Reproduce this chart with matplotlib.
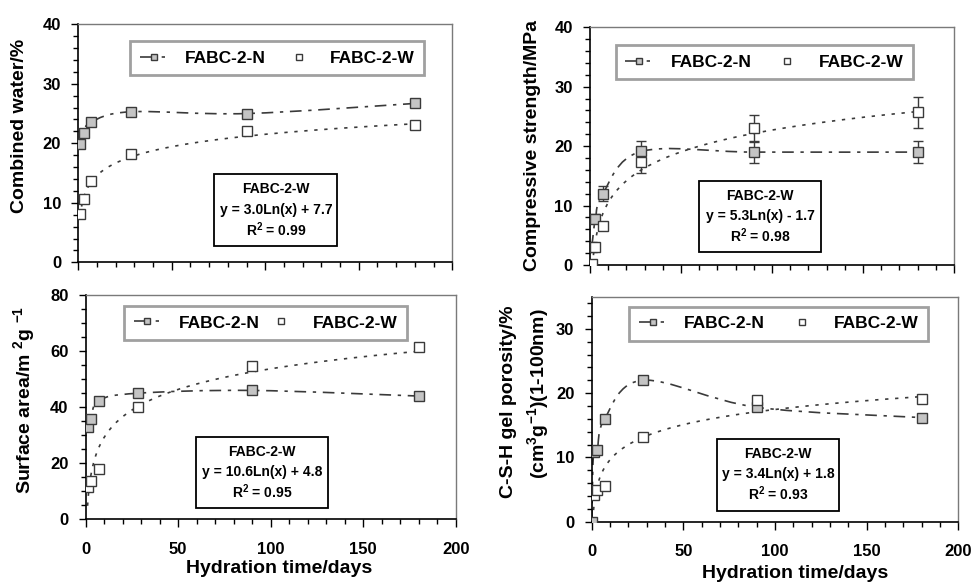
import numpy as np
import matplotlib
matplotlib.use("Agg")
import matplotlib.pyplot as plt
from matplotlib.path import Path
from matplotlib.patches import PathPatch, Rectangle
from matplotlib.lines import Line2D
from matplotlib.ticker import MultipleLocator

plt.rcParams['font.family'] = ['Liberation Sans', 'DejaVu Sans']
plt.rcParams['font.weight'] = 'bold'
plt.rcParams['mathtext.fontset'] = 'custom'
plt.rcParams['mathtext.rm'] = 'Liberation Sans:bold'
plt.rcParams['mathtext.it'] = 'Liberation Sans:bold'
plt.rcParams['mathtext.bf'] = 'Liberation Sans:bold'
plt.rcParams['mathtext.default'] = 'rm'

# ---------------- data ----------------
days = [1, 3, 7, 28, 90, 180]

water_N = [19.8, 21.8, 23.6, 25.3, 25.0, 26.7]
water_W = [8.2, 10.6, 13.7, 18.2, 22.0, 23.0]

strength_N = [3.1, 7.8, 12.0, 19.1, 19.0, 19.0]
strength_N_err = [0.5, 0.8, 1.3, 1.8, 1.9, 1.9]
strength_W = [0.1, 3.1, 6.5, 17.4, 23.0, 25.7]
strength_W_err = [0.3, 0.5, 0.6, 1.9, 2.3, 2.6]

area_N = [32.8, 35.7, 42.3, 44.9, 45.9, 43.9]
area_W = [11.4, 13.5, 17.8, 40.0, 54.6, 61.5]

poro_N_days = [0, 1, 3, 7, 28, 90, 180]
poro_N = [0.0, 10.8, 11.1, 16.0, 22.0, 17.8, 16.2]
poro_W = [4.2, 5.0, 5.5, 13.1, 19.0, 19.1]

# trendline coefficients printed in the chart (y = a Ln(x) + b)
fit_water = (3.0, 7.7)
fit_strength = (5.3, -1.7)
fit_area = (10.6, 4.8)
fit_poro = (3.4, 1.8)

eq_water = ["FABC-2-W", "y = 3.0Ln(x) + 7.7", "R$^{2}$ = 0.99"]
eq_strength = ["FABC-2-W", "y = 5.3Ln(x) - 1.7", "R$^{2}$ = 0.98"]
eq_area = ["FABC-2-W", "y = 10.6Ln(x) + 4.8", "R$^{2}$ = 0.95"]
eq_poro = ["FABC-2-W", "y = 3.4Ln(x) + 1.8", "R$^{2}$ = 0.93"]

labels = ["FABC-2-N", "FABC-2-W"]
xlabel = "Hydration time/days"

# ---------------- style ----------------
LINE_C = '#3a3a3a'
N_FILL = '#c4c4c4'
N_DASH = (7, 4, 2, 4)
W_DASH = (2, 4)
MS = 7
LEG_MS = 5


def smooth_path(x, y):
    """Excel-like smoothed line: cubic Bezier through the points."""
    P = np.column_stack([x, y]).astype(float)
    n = len(P)
    verts = [P[0]]
    codes = [Path.MOVETO]
    for i in range(n - 1):
        p0 = P[i - 1] if i > 0 else P[i]
        p1 = P[i]
        p2 = P[i + 1]
        p3 = P[i + 2] if i + 2 < n else P[i + 1]
        c1 = p1 + (p2 - p0) / 6.0
        c2 = p2 - (p3 - p1) / 6.0
        verts += [c1, c2, p2]
        codes += [Path.CURVE4] * 3
    return Path(verts, codes)


def style_axes(ax, ymax, ymaj, ymin_, show_xlabels):
    ax.set_xlim(0, 200)
    ax.set_ylim(0, ymax)
    ax.xaxis.set_major_locator(MultipleLocator(50))
    ax.xaxis.set_minor_locator(MultipleLocator(10))
    ax.yaxis.set_major_locator(MultipleLocator(ymaj))
    ax.yaxis.set_minor_locator(MultipleLocator(ymin_))
    ax.tick_params(axis='y', which='major', direction='out', length=5, width=1,
                   labelsize=12, pad=7.4)
    ax.tick_params(axis='y', which='minor', direction='out', length=3.5, width=1)
    ax.tick_params(axis='x', which='major', direction='out', length=6, width=1,
                   labelsize=12, pad=10, labelbottom=show_xlabels)
    ax.tick_params(axis='x', which='minor', direction='out', length=3.5, width=1)
    for s in ['left', 'bottom']:
        ax.spines[s].set_color('black')
        ax.spines[s].set_linewidth(1.2)
    for s in ['top', 'right']:
        ax.spines[s].set_color('#7a7a7a')
        ax.spines[s].set_linewidth(1.0)
    for lab in ax.get_xticklabels() + ax.get_yticklabels():
        lab.set_fontweight('bold')


def draw_series(ax, xn, yn, xw, yw, fit):
    # N: smoothed dash-dot line with grey squares
    patch = PathPatch(smooth_path(xn, yn), fill=False, edgecolor=LINE_C,
                      lw=1.2, zorder=2)
    patch.set_linestyle((0, N_DASH))
    ax.add_patch(patch)
    ax.plot(xn, yn, ls='none', marker='s', ms=MS, mfc=N_FILL, mec=LINE_C,
            mew=1.0, zorder=4)
    # W: log trendline (dotted) with white squares
    a, b = fit
    xt = np.linspace(min(xw), max(xw), 400)
    ax.plot(xt, a * np.log(xt) + b, color=LINE_C, lw=1.2, dashes=W_DASH, zorder=2)
    ax.plot(xw, yw, ls='none', marker='s', ms=MS, mfc='white', mec=LINE_C,
            mew=1.0, zorder=5)


def add_legend(ax, box):
    x0, y0, x1, y1 = box
    hN = Line2D([0], [0], color=LINE_C, lw=1.2, dashes=(9, 4, 2, 4), marker='s',
                ms=LEG_MS, mfc=N_FILL, mec=LINE_C, mew=1.0)
    hW = Line2D([0], [0], ls='none', marker='s', ms=LEG_MS, mfc='white',
                mec=LINE_C, mew=1.0)
    leg = ax.legend([hN, hW], labels, ncol=2, loc='center', mode='expand',
                    bbox_to_anchor=(x0, y0, x1 - x0, y1 - y0),
                    bbox_transform=ax.transAxes, borderaxespad=0,
                    numpoints=1, handlelength=1.6, handletextpad=1.0,
                    borderpad=0.55, fancybox=False, framealpha=1,
                    prop={'family': 'Liberation Sans', 'weight': 'bold', 'size': 12.5})
    fr = leg.get_frame()
    fr.set_edgecolor('#a0a0a0')
    fr.set_linewidth(2.0)
    leg.set_zorder(10)


def add_eq_box(ax, box, lines):
    x0, y0, x1, y1 = box
    ax.add_patch(Rectangle((x0, y0), x1 - x0, y1 - y0, transform=ax.transAxes,
                           facecolor='white', edgecolor='black', lw=1.3,
                           zorder=9, clip_on=False))
    xc = (x0 + x1) / 2
    h = y1 - y0
    for frac, s in zip([0.21, 0.49, 0.77], lines):
        ax.text(xc, y1 - frac * h, s, transform=ax.transAxes, ha='center',
                va='center', fontsize=10, fontweight='bold', zorder=11)


fig = plt.figure(figsize=(9.75, 5.84), dpi=100)
W, H = 975.0, 584.0


def axes_px(l, t, r, b):
    return fig.add_axes([l / W, 1 - b / H, (r - l) / W, (b - t) / H])


# ---- top-left: combined water ----
ax1 = axes_px(78.3, 24.3, 452.3, 262.3)
style_axes(ax1, 40, 10, 2, False)
draw_series(ax1, days, water_N, days, water_W, fit_water)
add_legend(ax1, (0.139, 0.773, 0.925, 0.941))
add_eq_box(ax1, (0.364, 0.067, 0.693, 0.370), eq_water)
ax1.set_ylabel("Combined water/%", fontsize=14, fontweight='bold')
ax1.yaxis.set_label_coords(-0.156, 0.571)
ax1.yaxis.label.set_va('center')

# ---- top-right: compressive strength ----
ax2 = axes_px(590, 27.3, 954, 265)
style_axes(ax2, 40, 10, 2, False)
ax2.errorbar(days, strength_N, yerr=strength_N_err, fmt='none', ecolor=LINE_C,
             elinewidth=1, capsize=3.5, capthick=1, zorder=3)
ax2.errorbar(days, strength_W, yerr=strength_W_err, fmt='none', ecolor=LINE_C,
             elinewidth=1, capsize=3.5, capthick=1, zorder=3)
draw_series(ax2, days, strength_N, days, strength_W, fit_strength)
add_legend(ax2, (0.071, 0.749, 0.887, 0.957))
add_eq_box(ax2, (0.300, 0.053, 0.635, 0.353), eq_strength)
ax2.set_ylabel("Compressive strength/MPa", fontsize=14, fontweight='bold')
ax2.yaxis.set_label_coords(-0.158, 0.504)
ax2.yaxis.label.set_va('center')

# ---- bottom-left: surface area ----
ax3 = axes_px(85.7, 294.7, 455.7, 519.3)
style_axes(ax3, 80, 20, 5, True)
draw_series(ax3, days, area_N, days, area_W, fit_area)
add_legend(ax3, (0.1035, 0.786, 0.868, 0.962))
add_eq_box(ax3, (0.297, 0.049, 0.656, 0.368), eq_area)
ax3.set_ylabel("Surface area/m $^{2}$g $^{-1}$", fontsize=14, fontweight='bold')
ax3.yaxis.set_label_coords(-0.167, 0.531)
ax3.yaxis.label.set_va('center')
ax3.set_xlabel(xlabel, fontsize=14, fontweight='bold')
ax3.xaxis.set_label_coords(0.522, -0.217)
ax3.xaxis.label.set_va('center')

# ---- bottom-right: C-S-H gel porosity ----
ax4 = axes_px(591.7, 296.7, 958.3, 521.7)
style_axes(ax4, 35, 10, 2, True)
draw_series(ax4, poro_N_days, poro_N, days, poro_W, fit_poro)
add_legend(ax4, (0.1026, 0.797, 0.9165, 0.963))
add_eq_box(ax4, (0.341, 0.049, 0.675, 0.368), eq_poro)
ax4.set_ylabel("C-S-H gel porosity/%", fontsize=14, fontweight='bold')
ax4.yaxis.set_label_coords(-0.2256, 0.532)
ax4.yaxis.label.set_va('center')
ax4.text(-0.146, 0.568, "(cm$^{3}$g$^{-1}$)(1-100nm)", transform=ax4.transAxes,
         rotation=90, ha='center', va='center', fontsize=14, fontweight='bold')
ax4.set_xlabel(xlabel, fontsize=14, fontweight='bold')
ax4.xaxis.set_label_coords(0.556, -0.232)
ax4.xaxis.label.set_va('center')

fig.savefig("out.png", dpi=100, facecolor='white')
